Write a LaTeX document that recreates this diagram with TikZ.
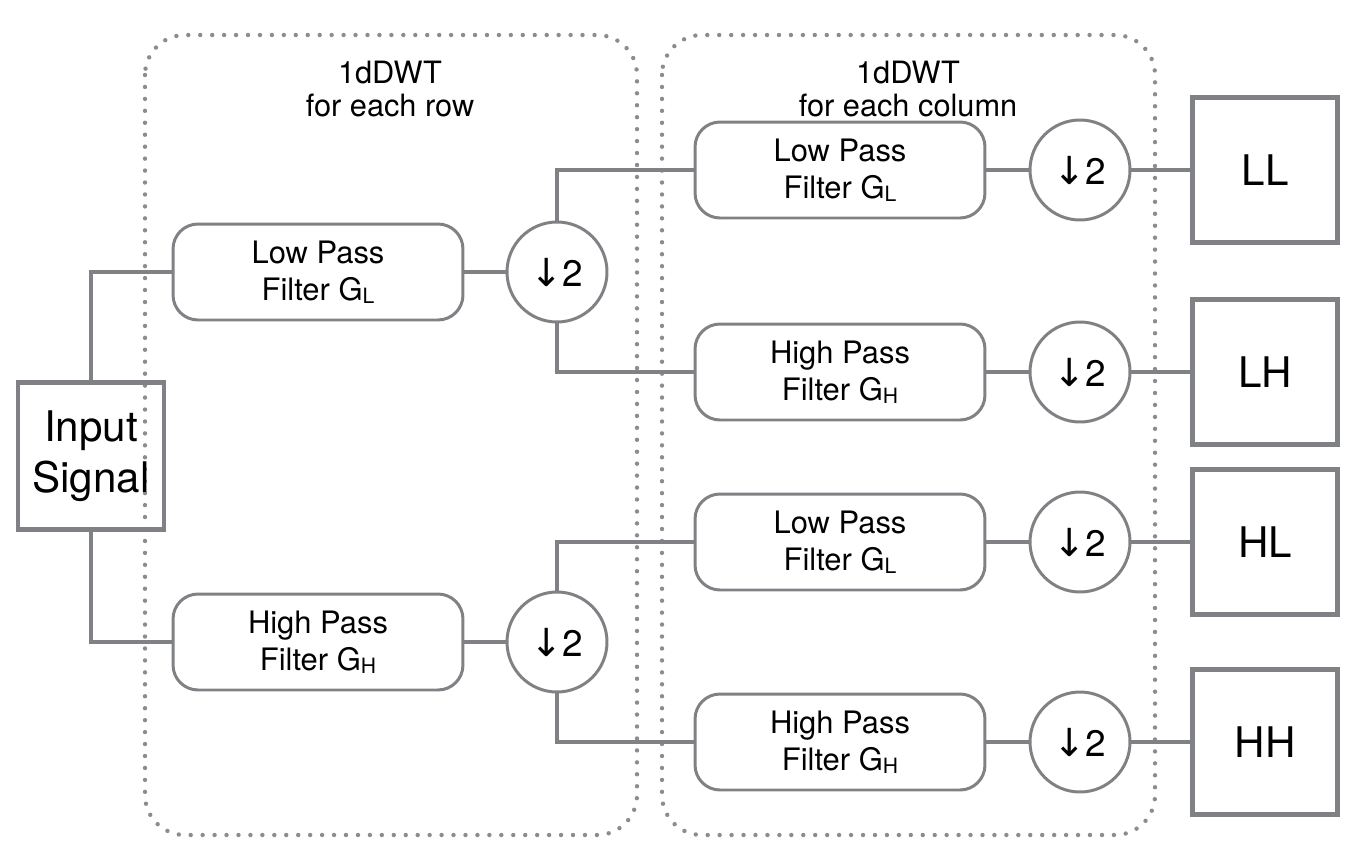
\documentclass[tikz,border=0pt]{standalone}
\usepackage{fontspec}
\setmainfont{TeX Gyre Heros}
\newfontfamily\arrowfont{DejaVu Sans}
\usetikzlibrary{positioning}
\definecolor{wire-gray}{HTML}{808184}
\definecolor{dot-gray}{HTML}{8C8C8C}
\newcommand\gsub[1]{\raisebox{-1.5pt}{\fontsize{12}{12}\selectfont #1}}
\newcommand\down{{\arrowfont\fontsize{22}{22}\selectfont ↓}2}

\begin{document}
\begin{tikzpicture}[x=0.02cm, y=-0.02cm,
    wire/.style={draw=wire-gray, line width=2pt},
    filterbox/.style={draw=wire-gray, line width=1.7pt, rounded corners=0.5cm,
      minimum width=5.8cm, minimum height=1.92cm, align=center,
      font=\fontsize{17.6}{21}\selectfont},
    downbox/.style={draw=wire-gray, line width=1.7pt, circle, minimum size=2cm,
      inner sep=0pt, font=\fontsize{21}{21}\selectfont},
    outbox/.style={draw=wire-gray, line width=2.5pt, minimum size=2.9cm,
      font=\fontsize{24}{24}\selectfont},
    group/.style={draw=dot-gray, line width=2.5pt, line cap=round,
      dash pattern=on 0pt off 6.8pt, rounded corners=0.8cm},
    title/.style={align=center, font=\fontsize{17.5}{19}\selectfont}]
  \useasboundingbox (0,0) rectangle (1372,862);

  % dotted frames
  \draw[group] (145,35) rectangle (637,835);
  \draw[group] (662,35) rectangle (1155,835);
  \node[title] (trow) at (390,89) {1dDWT\\for each row};
  \node[title] (tcol) at (908,89) {1dDWT\\for each column};

  % input
  \node[draw=wire-gray, line width=2.5pt, minimum width=2.92cm,
    minimum height=2.94cm, align=center,
    font=\fontsize{24}{29}\selectfont] (in) at (91,456) {Input\\Signal};

  % rows
  \node[filterbox] (lp1) at (318,272) {Low Pass\\Filter G\gsub{L}};
  \node[filterbox] (hp1) at (318,642) {High Pass\\Filter G\gsub{H}};
  \node[downbox] (dl) at (557,272) {\down};
  \node[downbox] (dh) at (557,642) {\down};

  % columns
  \node[filterbox] (lpa) at (840,170) {Low Pass\\Filter G\gsub{L}};
  \node[filterbox] (hpa) at (840,372) {High Pass\\Filter G\gsub{H}};
  \node[filterbox] (lpb) at (840,542) {Low Pass\\Filter G\gsub{L}};
  \node[filterbox] (hpb) at (840,742) {High Pass\\Filter G\gsub{H}};
  \node[downbox] (dll) at (1080,170) {\down};
  \node[downbox] (dlh) at (1080,372) {\down};
  \node[downbox] (dhl) at (1080,542) {\down};
  \node[downbox] (dhh) at (1080,742) {\down};

  % outputs
  \node[outbox] (ll) at (1265,170) {LL};
  \node[outbox] (lh) at (1265,372) {LH};
  \node[outbox] (hl) at (1265,542) {HL};
  \node[outbox] (hh) at (1265,742) {HH};

  % wires
  \draw[wire] (in.north) |- (lp1.west);
  \draw[wire] (in.south) |- (hp1.west);
  \draw[wire] (lp1) -- (dl);
  \draw[wire] (hp1) -- (dh);
  \draw[wire] (dl.north) |- (lpa.west);
  \draw[wire] (dl.south) |- (hpa.west);
  \draw[wire] (dh.north) |- (lpb.west);
  \draw[wire] (dh.south) |- (hpb.west);
  \draw[wire] (lpa) -- (dll);
  \draw[wire] (hpa) -- (dlh);
  \draw[wire] (lpb) -- (dhl);
  \draw[wire] (hpb) -- (dhh);
  \draw[wire] (dll) -- (ll);
  \draw[wire] (dlh) -- (lh);
  \draw[wire] (dhl) -- (hl);
  \draw[wire] (dhh) -- (hh);
\end{tikzpicture}
\end{document}
